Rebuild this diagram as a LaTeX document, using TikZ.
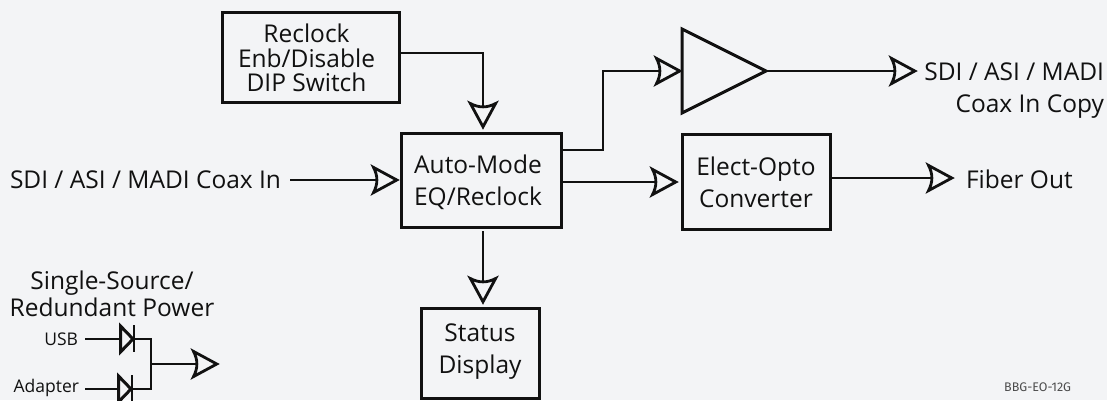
\documentclass[tikz,border=0pt]{standalone}
\usepackage{fontspec}
\setmainfont{Open Sans}
\newfontfamily\tagfont{Fira Sans}
\usetikzlibrary{arrows.meta,shapes.geometric}
\definecolor{bgc}{HTML}{F3F4F6}
\definecolor{ink}{HTML}{111111}
\pgfdeclarearrow{
  name=OpenDart,
  setup code={
    \pgfarrowssettipend{0pt}
    \pgfarrowssetbackend{-29pt}
    \pgfarrowssetlineend{-23pt}
    \pgfarrowssetvisualbackend{-23pt}
  },
  drawing code={
    \pgfsetdash{}{0pt}
    \pgfsetlinewidth{2.8pt}
    \pgfsetmiterjoin
    \pgfsetmiterlimit{10}
    \pgfpathmoveto{\pgfqpoint{-3.2pt}{0pt}}
    \pgfpathlineto{\pgfqpoint{-26.5pt}{12.6pt}}
    \pgfpathcurveto{\pgfqpoint{-22pt}{4pt}}{\pgfqpoint{-22pt}{-4pt}}{\pgfqpoint{-26.5pt}{-12.6pt}}
    \pgfpathclose
    \pgfusepathqstroke
  }
}
\newcommand{\mainsize}{\fontsize{24.5}{32}\selectfont}
\tikzset{
  x=1pt,y=-1pt,
  every node/.style={text=ink,inner sep=0pt,outer sep=0pt},
  wire/.style={draw=ink,line width=2.7pt,line join=miter},
  sig/.style={wire,-{OpenDart}},
  blockbox/.style={draw=ink,line width=3pt},
  lbl/.style={font=\mainsize,align=center},
  smalllbl/.style={font=\fontsize{17.5}{20}\selectfont},
  diodetri/.style={draw=ink,line width=3pt,fill=bgc},
}
\begin{document}
\begin{tikzpicture}
\useasboundingbox (0,0) rectangle (1107,400);
\fill[bgc] (0,0) rectangle (1107,400);
% blocks
\node[blockbox,minimum width=177pt,minimum height=90pt] (reclock) at (310.5,57) {};
\node[lbl,font=\fontsize{24.5}{24.5}\selectfont] (reclocktxt) at (306.5,58) {Reclock\\Enb/Disable\\DIP Switch};
\node[blockbox,minimum width=160pt,minimum height=94pt] (auto) at (481,180) {};
\node[lbl] (autotxt) at (478,182) {Auto-Mode\\EQ/Reclock};
\node[blockbox,minimum width=148pt,minimum height=95pt] (elect) at (756,181.5) {};
\node[lbl] (electtxt) at (756,182) {Elect-Opto\\Converter};
\node[blockbox,minimum width=118pt,minimum height=90pt] (status) at (480,353) {};
\node[lbl] (statustxt) at (480,352) {Status\\Display};
\path[draw=ink,line width=3pt,line join=miter] (682,29) -- (766,71) -- (682,113) -- cycle;
\coordinate (ampin) at (683,71);
\coordinate (ampout) at (766,71);
% labels
\node[lbl,anchor=base west] (inlbl) at (10,188) {SDI / ASI / MADI Coax In};
\node[lbl,align=right,anchor=east] (copylbl) at (1104,91) {SDI / ASI / MADI\\Coax In Copy};
\node[lbl,anchor=base west] (fiberlbl) at (966,188) {Fiber Out};
\node[lbl,font=\fontsize{24.5}{27}\selectfont] (powerlbl) at (112,294) {Single-Source/\\Redundant Power};
\node[smalllbl,anchor=base east] (usblbl) at (78,345) {USB};
\node[smalllbl,anchor=base east] (adaptlbl) at (79,392) {Adapter};
\node[anchor=base east,font=\tagfont\fontsize{12.5}{14}\selectfont,text=black!70] (taglbl) at (1071,391) {BBG-EO-12G};
% connector ends
\coordinate (rcA) at (reclock.east |- 0,53);
\coordinate (rcB) at (483,53);
\coordinate (aTop) at (483,130);
\coordinate (inS) at (290,180);
\coordinate (inE) at (400,180);
\coordinate (aAmp) at (auto.east |- 0,150);
\coordinate (bend1) at (603,150);
\coordinate (bend2) at (603,71);
\coordinate (aEl) at (auto.east |- 0,182);
\coordinate (elIn) at (679,182);
\coordinate (copyTip) at (918,71);
\coordinate (elOut) at (elect.east |- 0,178);
\coordinate (fiberTip) at (955,178);
\coordinate (aBot) at (483,231);
\coordinate (stTop) at (483,305);
% connectors
\draw[sig] (rcA) -- (rcB) -- (aTop);
\draw[sig] (inS) -- (inE);
\draw[sig] (aAmp) -- (bend1) -- (bend2) -- (ampin);
\draw[sig] (aEl) -- (elIn);
\draw[sig] (ampout) -- (copyTip);
\draw[sig] (elOut) -- (fiberTip);
\draw[sig] (aBot) -- (stTop);
% power
\coordinate (usbS) at (85,339);
\coordinate (usbA) at (120,339);
\coordinate (usbK) at (134,339);
\coordinate (adS) at (85,389);
\coordinate (adA) at (118,389);
\coordinate (adK) at (132,389);
\coordinate (jTop) at (151,339);
\coordinate (jBot) at (151,389);
\coordinate (jMid) at (151,364);
\coordinate (pwrTip) at (220,364);
\draw[wire] (usbS) -- (usbA);
\draw[wire] (adS) -- (adA);
\draw[wire] (usbK) -- (jTop) -- (jBot) -- (adK);
\draw[diodetri] (120.5,326) -- (133,339) -- (120.5,352) -- cycle;
\draw[diodetri] (118.5,376) -- (131,389) -- (118.5,402) -- cycle;
\draw[wire] (134,325) -- (134,352);
\draw[wire] (132,375) -- (132,402);
\draw[sig] (jMid) -- (pwrTip);
\end{tikzpicture}
\end{document}
